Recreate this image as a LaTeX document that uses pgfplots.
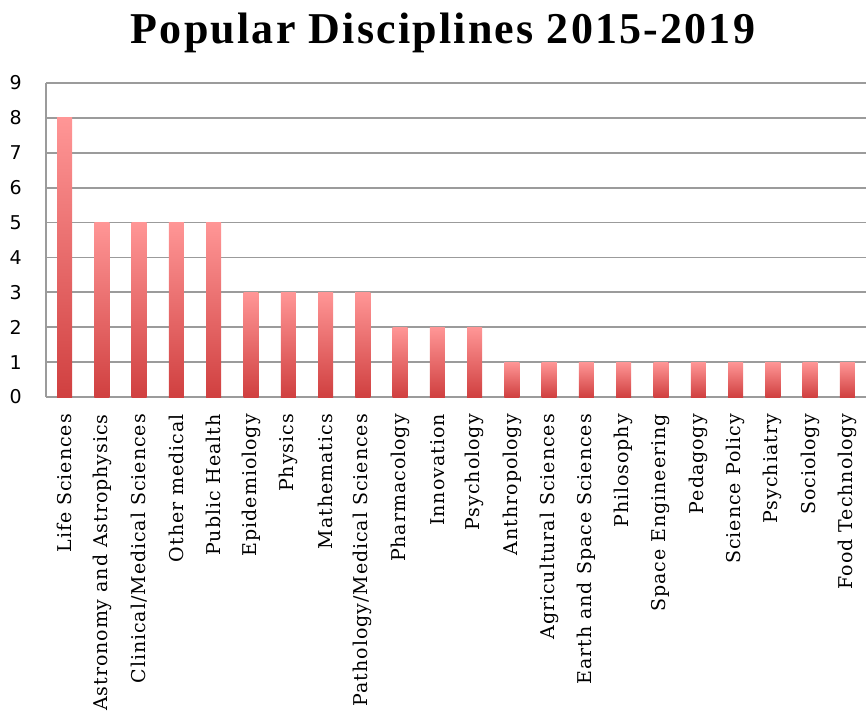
\documentclass[border=0pt]{standalone}
\usepackage{fontspec}
\setmainfont{DejaVu Serif}[LetterSpace=5]
\newfontfamily\titlefont{Liberation Serif}[LetterSpace=5]
\newfontfamily\tickfont{DejaVu Sans}
\usepackage{pgfplots}
\pgfplotsset{compat=1.18}
\definecolor{gridc}{RGB}{155,155,155}
\definecolor{bartop}{RGB}{255,150,150}
\definecolor{barbot}{RGB}{208,64,64}
\begin{document}
\begin{tikzpicture}
\useasboundingbox (-46pt,-323pt) rectangle (820pt,397pt);
\begin{axis}[
  at={(0pt,0pt)}, anchor=south west,
  scale only axis,
  width=820pt, height=314pt,
  xmin=-0.5, xmax=21.5,
  ymin=0, ymax=9,
  ytick={0,1,...,9},
  xtick={0,...,21},
  xticklabels={Life Sciences,Astronomy and Astrophysics,Clinical/Medical Sciences,Other medical,Public Health,Epidemiology,Physics,Mathematics,Pathology/Medical Sciences,Pharmacology,Innovation,Psychology,Anthropology,Agricultural Sciences,Earth and Space Sciences,Philosophy,Space Engineering,Pedagogy,Science Policy,Psychiatry,Sociology,Food Technology},
  major tick length=0pt,
  axis x line*=bottom,
  axis y line*=left,
  axis line style={draw=gridc, line width=1.7pt, -},
  ymajorgrids,
  major grid style={draw=gridc, line width=1.7pt},
  yticklabel style={font=\tickfont\fontsize{19}{21}\selectfont, inner sep=0pt, anchor=east},
  yticklabel shift=24pt,
  /pgf/number format/assume math mode=true,
  xticklabel style={font=\fontsize{19}{21}\selectfont, rotate=90, anchor=east, inner sep=0pt},
  xticklabel shift=17pt,
  title={Popular Disciplines 2015-2019},
  title style={font=\titlefont\bfseries\fontsize{44}{48}\selectfont, at={(axis description cs:0.4842,1)}, anchor=base, yshift=34pt, inner sep=0pt},
  ybar, bar width=15pt,
  every axis plot/.append style={draw=none, top color=bartop, bottom color=barbot, bar shift=0pt},
  clip=false,
]
\addplot coordinates {(0,8)};
\addplot coordinates {(1,5)};
\addplot coordinates {(2,5)};
\addplot coordinates {(3,5)};
\addplot coordinates {(4,5)};
\addplot coordinates {(5,3)};
\addplot coordinates {(6,3)};
\addplot coordinates {(7,3)};
\addplot coordinates {(8,3)};
\addplot coordinates {(9,2)};
\addplot coordinates {(10,2)};
\addplot coordinates {(11,2)};
\addplot coordinates {(12,1)};
\addplot coordinates {(13,1)};
\addplot coordinates {(14,1)};
\addplot coordinates {(15,1)};
\addplot coordinates {(16,1)};
\addplot coordinates {(17,1)};
\addplot coordinates {(18,1)};
\addplot coordinates {(19,1)};
\addplot coordinates {(20,1)};
\addplot coordinates {(21,1)};
\end{axis}
\end{tikzpicture}
\end{document}
